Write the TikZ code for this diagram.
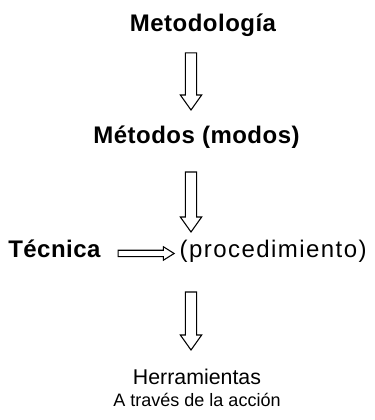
\documentclass[tikz,border=0pt]{standalone}
\usepackage{fontspec}
\setmainfont{Liberation Sans}
\usetikzlibrary{calc,positioning}
\tikzset{arrtail/.store in=\arrtail, arrhead/.store in=\arrhead,
	arrheadlen/.store in=\arrheadlen,
	arrgapa/.store in=\arrgapa, arrgapb/.store in=\arrgapb,
	arrtail=4.2pt, arrhead=8pt, arrheadlen=11.25pt, arrgapa=0pt, arrgapb=0pt,
	blockarrow/.style={draw, line width=0.8pt, line join=miter,
		to path={let \p1=($(\tikztostart)!\arrgapa!(\tikztotarget)$),
			\p2=($(\tikztotarget)!\arrgapb!(\tikztostart)$) in
			($(\p1)!\arrtail!90:(\p2)$)
			-- ($(\p2)!\arrheadlen!(\p1)!\arrtail!-90:(\p1)$)
			-- ($(\p2)!\arrheadlen!(\p1)!\arrhead!-90:(\p1)$)
			-- (\p2)
			-- ($(\p2)!\arrheadlen!(\p1)!\arrhead!90:(\p1)$)
			-- ($(\p2)!\arrheadlen!(\p1)!\arrtail!90:(\p1)$)
			-- ($(\p1)!\arrtail!-90:(\p2)$) -- cycle}},
	smallarrow/.style={blockarrow, arrtail=2.4pt, arrhead=5pt, arrheadlen=8pt},
	title/.style={inner sep=0pt,
		font=\fontsize{18}{21}\selectfont\bfseries\addfontfeature{LetterSpace=2}},
	plain/.style={inner sep=0pt}}

\begin{document}
\begin{tikzpicture}[x=0.75pt,y=-0.75pt]
	\useasboundingbox (0,0) rectangle (374,420);
	\coordinate (axis) at (191,0);
	\node[title,anchor=base] (met) at (203,31.5) {Metodología};
	\node[title,anchor=base] (mtd) at (196.5,144) {Métodos (modos)};
	\node[title,anchor=base west] (tec) at (8,257) {Técnica};
	\node[plain,font=\fontsize{18}{21}\selectfont\addfontfeature{LetterSpace=6}]
		(proc) [base right=59pt of tec] {(procedimiento)};
	\node[plain,anchor=base,font=\fontsize{16}{19}\selectfont]
		(herr) at (197,384) {Herramientas};
	\node[plain,anchor=base,font=\fontsize{13.5}{16}\selectfont]
		(acc) at ([yshift=-16.5pt]herr.base) {A través de la acción};
	\draw[blockarrow, arrgapa=16.1pt, arrgapb=25.5pt] (met.base -| axis) to (mtd.base -| axis);
	\draw[blockarrow, arrgapa=21pt, arrgapb=18.75pt] (mtd.base -| axis) to (tec.base -| axis);
	\draw[blockarrow, arrgapa=26.25pt, arrgapb=25.5pt] (tec.base -| axis) to (herr.base -| axis);
	\draw[smallarrow, arrgapa=13pt, arrgapb=4pt] (tec.mid east) to (proc.mid west);
\end{tikzpicture}
\end{document}
